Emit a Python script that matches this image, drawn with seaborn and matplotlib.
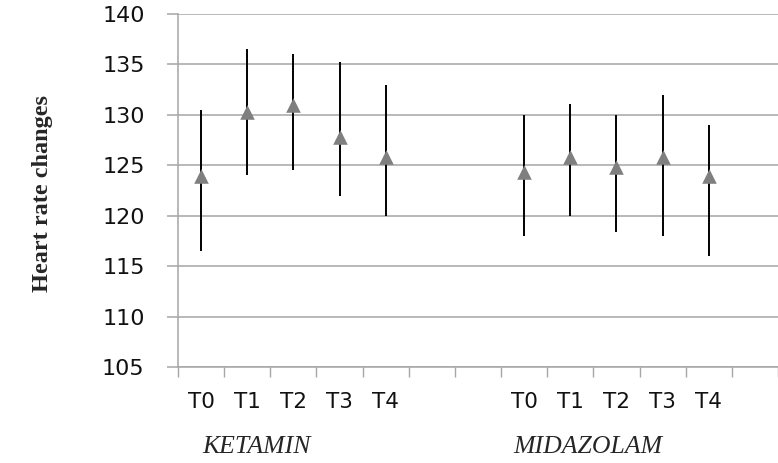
import numpy as np
import pandas as pd
import matplotlib
matplotlib.use('Agg')
import matplotlib.pyplot as plt
import seaborn as sns

# 数据
groups = ['KETAMIN', 'MIDAZOLAM']
times = ['T0', 'T1', 'T2', 'T3', 'T4']
ketamin_mean = [123.9, 130.3, 131.0, 127.8, 125.8]
ketamin_low = [116.5, 124.0, 124.5, 122.0, 120.0]
ketamin_high = [130.5, 136.5, 136.0, 135.2, 133.0]
midazolam_mean = [124.3, 125.8, 124.8, 125.8, 123.9]
midazolam_low = [118.0, 120.0, 118.4, 118.0, 116.0]
midazolam_high = [130.0, 131.1, 130.0, 132.0, 129.0]
y_ticks = [105, 110, 115, 120, 125, 130, 135, 140]

group_offset = {'KETAMIN': 0, 'MIDAZOLAM': 7}

rows = []
for g, means, lows, highs in [('KETAMIN', ketamin_mean, ketamin_low, ketamin_high),
                              ('MIDAZOLAM', midazolam_mean, midazolam_low, midazolam_high)]:
    for i, t in enumerate(times):
        rows.append({'group': g, 'time': t, 'pos': i + group_offset[g],
                     'mean': means[i], 'low': lows[i], 'high': highs[i]})
df = pd.DataFrame(rows)

sns.set_style('white')
plt.rcParams['font.family'] = ['DejaVu Sans']

fig = plt.figure(figsize=(7.78, 4.63), dpi=100)
ax = fig.add_axes([178 / 778, 96 / 463, 600 / 778, 353 / 463])

# 误差线
ax.errorbar(df['pos'], df['mean'],
            yerr=[df['mean'] - df['low'], df['high'] - df['mean']],
            fmt='none', ecolor='black', elinewidth=1.4, capsize=0, zorder=2)
# 三角形均值
sns.scatterplot(data=df, x='pos', y='mean', marker='^', color='#7f7f7f',
                s=110, edgecolor='#7f7f7f', linewidth=0, ax=ax, zorder=3, legend=False)

slot_w = 46.7
ax.set_xlim(-0.5, -0.5 + 600 / slot_w)
ax.set_ylim(105, 140)
ax.set_yticks(y_ticks)
ax.set_yticklabels([str(v) for v in y_ticks], fontsize=16, color='#111111')
ax.yaxis.grid(True, color='#a6a6a6', linewidth=1.1)
ax.set_axisbelow(True)

# x 轴刻度：类别边界处的小刻度，标签放在类别中心
ax.set_xticks(np.arange(-0.5, 13, 1.0))
ax.set_xticklabels([])
ax.set_xticks(df['pos'], minor=True)
ax.set_xticklabels(df['time'], minor=True, fontsize=15.5, color='#111111')
ax.tick_params(axis='x', which='major', bottom=True, direction='out', length=7,
               width=1, color='#a6a6a6')
ax.tick_params(axis='x', which='minor', bottom=True, length=0, pad=18)
ax.tick_params(axis='y', left=True, direction='out', length=8, width=1.1,
               color='#a6a6a6', pad=16)

for side in ['top', 'right']:
    ax.spines[side].set_visible(False)
for side in ['left', 'bottom']:
    ax.spines[side].set_color('#a6a6a6')
    ax.spines[side].set_linewidth(1.1)

ax.set_xlabel('')
ax.set_ylabel('')

fig.text(43 / 778, 1 - 193 / 463, 'Heart rate changes', rotation=90,
         ha='center', va='center', fontsize=17.5, fontweight='bold',
         family='Liberation Serif')
fig.text(256 / 778, 1 - 447 / 463, 'KETAMIN', ha='center', va='center',
         fontsize=18.5, style='italic', family='Liberation Serif')
fig.text(588 / 778, 1 - 447 / 463, 'MIDAZOLAM', ha='center', va='center',
         fontsize=18.5, style='italic', family='Liberation Serif')

fig.savefig('out.png', dpi=100)
